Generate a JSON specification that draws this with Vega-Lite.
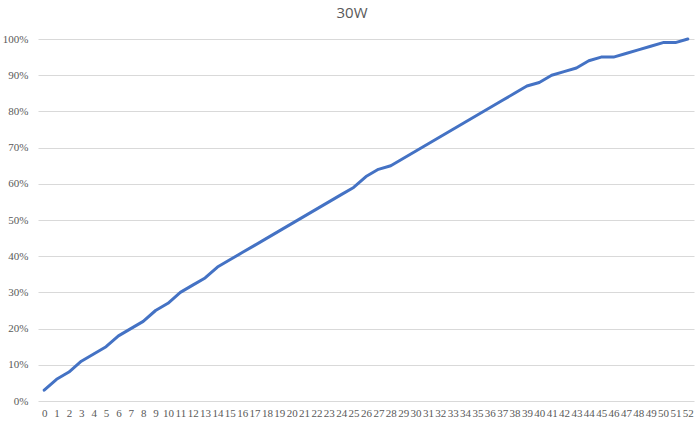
{
  "$schema": "https://vega.github.io/schema/vega-lite/v6.json",
  "width": 656,
  "height": 362,
  "autosize": "none",
  "padding": {"left": 38, "top": 39, "right": 4, "bottom": 28},
  "background": "white",
  "title": {"text": "30W", "fontSize": 15, "font": "Open Sans", "fontWeight": "normal", "color": "#595959", "anchor": "middle", "dx": -14, "offset": 12},
  "data": {"values": [
    {"x": 0, "y": 0.03}, {"x": 1, "y": 0.06}, {"x": 2, "y": 0.08}, {"x": 3, "y": 0.11}, {"x": 4, "y": 0.13},
    {"x": 5, "y": 0.15}, {"x": 6, "y": 0.18}, {"x": 7, "y": 0.20}, {"x": 8, "y": 0.22}, {"x": 9, "y": 0.25},
    {"x": 10, "y": 0.27}, {"x": 11, "y": 0.30}, {"x": 12, "y": 0.32}, {"x": 13, "y": 0.34}, {"x": 14, "y": 0.37},
    {"x": 15, "y": 0.39}, {"x": 16, "y": 0.41}, {"x": 17, "y": 0.43}, {"x": 18, "y": 0.45}, {"x": 19, "y": 0.47},
    {"x": 20, "y": 0.49}, {"x": 21, "y": 0.51}, {"x": 22, "y": 0.53}, {"x": 23, "y": 0.55}, {"x": 24, "y": 0.57},
    {"x": 25, "y": 0.59}, {"x": 26, "y": 0.62}, {"x": 27, "y": 0.64}, {"x": 28, "y": 0.65}, {"x": 29, "y": 0.67},
    {"x": 30, "y": 0.69}, {"x": 31, "y": 0.71}, {"x": 32, "y": 0.73}, {"x": 33, "y": 0.75}, {"x": 34, "y": 0.77},
    {"x": 35, "y": 0.79}, {"x": 36, "y": 0.81}, {"x": 37, "y": 0.83}, {"x": 38, "y": 0.85}, {"x": 39, "y": 0.87},
    {"x": 40, "y": 0.88}, {"x": 41, "y": 0.90}, {"x": 42, "y": 0.91}, {"x": 43, "y": 0.92}, {"x": 44, "y": 0.94},
    {"x": 45, "y": 0.95}, {"x": 46, "y": 0.95}, {"x": 47, "y": 0.96}, {"x": 48, "y": 0.97}, {"x": 49, "y": 0.98},
    {"x": 50, "y": 0.99}, {"x": 51, "y": 0.99}, {"x": 52, "y": 1.00}
  ]},
  "mark": {"type": "line", "color": "#4472C4", "strokeWidth": 3, "strokeCap": "round", "strokeJoin": "round"},
  "encoding": {
    "x": {"field": "x", "type": "ordinal", "sort": null,
      "scale": {"type": "point", "padding": 0.5},
      "axis": {"title": null, "labelAngle": 0, "grid": false, "ticks": false, "domain": false,
        "labelFont": "Liberation Sans Narrow", "labelFontSize": 11, "labelColor": "#595959", "labelPadding": 6, "labelOverlap": false}},
    "y": {"field": "y", "type": "quantitative",
      "scale": {"domain": [0, 1], "nice": false},
      "axis": {"title": null, "format": ".0%", "values": [0, 0.1, 0.2, 0.3, 0.4, 0.5, 0.6, 0.7, 0.8, 0.9, 1.0],
        "grid": true, "gridColor": "#d9d9d9", "gridWidth": 1, "ticks": false, "domain": false,
        "labelFont": "Liberation Sans Narrow", "labelFontSize": 11, "labelColor": "#595959", "labelPadding": 10}}
  },
  "config": {"view": {"stroke": null}}
}
